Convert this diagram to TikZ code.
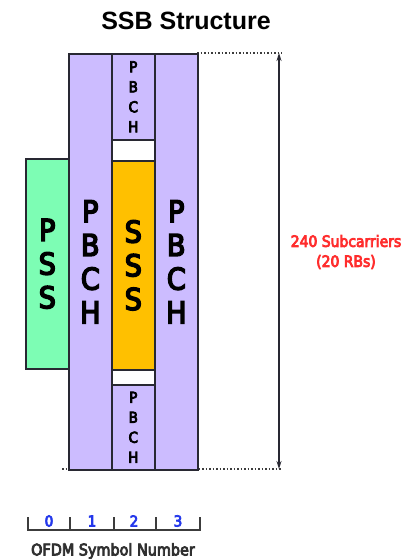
\documentclass[tikz,border=0pt]{standalone}
\usepackage{fontspec}
\setmainfont{DejaVu Sans Condensed}
\newfontfamily\medfont[FakeBold=5]{DejaVu Sans Condensed}
\newfontfamily\titlefont{Liberation Sans}
\usetikzlibrary{arrows.meta}
\definecolor{pbch}{RGB}{204,188,255}
\definecolor{pss}{RGB}{125,253,180}
\definecolor{sss}{RGB}{255,192,0}
\definecolor{edge}{RGB}{40,40,50}
\definecolor{lbl}{RGB}{255,45,45}
\definecolor{num}{RGB}{35,55,235}
\definecolor{axis}{RGB}{60,60,60}
\tikzset{
  blk/.style={draw=edge, line width=1.6pt, anchor=north west, inner sep=0pt, align=center, text=black},
  bigtxt/.style={font=\medfont\fontsize{30}{33.7}\selectfont},
  smalltxt/.style={font=\medfont\fontsize{15}{20}\selectfont},
  dotline/.style={draw=axis, line width=1.5pt, dash pattern=on 1.5pt off 2pt},
  dimarrow/.style={draw=edge, line width=1.2pt, {Stealth[length=8pt,width=5pt]}-{Stealth[length=8pt,width=5pt]}},
  axisline/.style={draw=axis, line width=1.2pt},
  numtxt/.style={text=num, font=\medfont\fontsize{15}{16}\selectfont},
}
\begin{document}
\begin{tikzpicture}[x=1pt,y=-1pt]
\useasboundingbox (0,0) rectangle (406,559);
% title
\node[font=\titlefont\bfseries\fontsize{25}{28}\selectfont] (title) at (186,21) {SSB Structure};
% dotted extension lines (behind blocks)
\coordinate (dt0) at (197,53);
\coordinate (dt1) at (282,53);
\coordinate (db0) at (62,469);
\coordinate (db1) at (282,469);
\draw[dotline] (dt0) -- (dt1);
\draw[dotline] (db0) -- (db1);
% PSS
\node[blk, fill=pss, bigtxt, minimum width=43pt, minimum height=210pt] (pss) at (25,158) {P\\S\\S};
% PBCH columns
\node[blk, fill=pbch, bigtxt, minimum width=43pt, minimum height=416pt] (c1) at (68,53) {P\\B\\C\\H};
\node[blk, fill=pbch, bigtxt, minimum width=43pt, minimum height=416pt] (c3) at (154,53) {P\\B\\C\\H};
% middle column
\node[blk, fill=pbch, smalltxt, minimum width=43pt, minimum height=86pt] (m1) at (111,53) {P\\B\\C\\H};
\node[blk, fill=white, minimum width=43pt, minimum height=21pt] (g1) at (111,139) {};
\node[blk, fill=sss, bigtxt, minimum width=43pt, minimum height=209pt] (sss) at (111,160) {S\\S\\S};
\node[blk, fill=white, minimum width=43pt, minimum height=15pt] (g2) at (111,369) {};
\node[blk, fill=pbch, smalltxt, minimum width=43pt, minimum height=85pt] (m2) at (111,384) {P\\B\\C\\H};
% dimension arrow
\coordinate (at) at (279,53);
\coordinate (ab) at (279,469);
\draw[dimarrow] (at) -- (ab);
\node[text=lbl, align=center, font=\medfont\fontsize{15.5}{20}\selectfont] (dim) at (346,252) {240 Subcarriers\\(20 RBs)};
% axis
\coordinate (t0) at (28,517);
\coordinate (t1) at (70,517);
\coordinate (t2) at (114,517);
\coordinate (t3) at (156,517);
\coordinate (t4) at (200,517);
\coordinate (b0) at (28,530);
\coordinate (b4) at (200,530);
\draw[axisline] (t0) -- (b0) -- (b4) -- (t4);
\draw[axisline] (t1) -- (t1 |- b0);
\draw[axisline] (t2) -- (t2 |- b0);
\draw[axisline] (t3) -- (t3 |- b0);
\node[numtxt] (n0) at (49,521) {0};
\node[numtxt] (n1) at (92,521) {1};
\node[numtxt] (n2) at (134,521) {2};
\node[numtxt] (n3) at (178,521) {3};
\node[text=axis!80!black, font=\medfont\fontsize{16}{18}\selectfont] (ofdm) at (113,551) {OFDM Symbol Number};
\end{tikzpicture}
\end{document}
